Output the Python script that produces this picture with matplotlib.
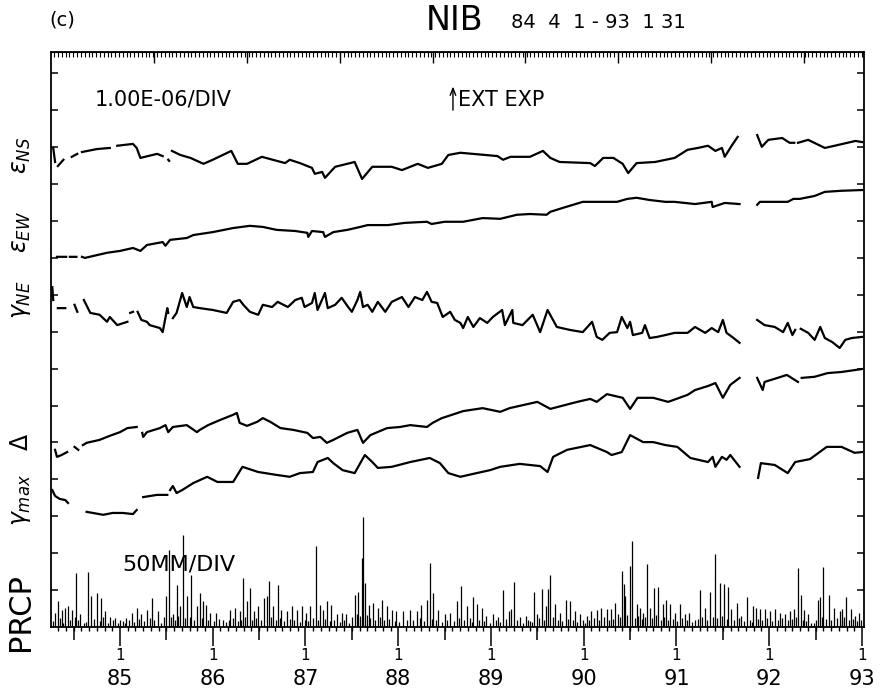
import numpy as np
import matplotlib
matplotlib.use("Agg")
import matplotlib.pyplot as plt
import matplotlib.transforms as mtransforms

plt.rcParams['font.family'] = ['DejaVu Sans']
plt.rcParams['mathtext.fontset'] = 'dejavusans'

nan = np.nan

# time in decimal years, strain in 1e-6 (one division), relative to each trace's base line
ens_t = [1984.28, 1984.30, 1984.31, 1984.33, 1984.39, 1984.43, 1984.48, 1984.54, 1984.56,
         1984.59, 1984.75, 1984.89, 1984.93, 1984.97, 1985.14, 1985.18, 1985.22, 1985.40,
         1985.46, 1985.49, 1985.52, 1985.53, 1985.545, 1985.56, 1985.65, 1985.76, 1985.90,
         1986.00, 1986.20, 1986.27, 1986.37, 1986.53, 1986.78, 1986.83, 1986.94, 1987.07,
         1987.10, 1987.18, 1987.21, 1987.32, 1987.53, 1987.61, 1987.72, 1987.93, 1988.04,
         1988.21, 1988.32, 1988.47, 1988.54, 1988.67, 1989.07, 1989.13, 1989.21, 1989.42,
         1989.56, 1989.64, 1989.74, 1990.07, 1990.12, 1990.21, 1990.32, 1990.42, 1990.48,
         1990.57, 1990.77, 1990.98, 1991.12, 1991.23, 1991.34, 1991.42, 1991.49, 1991.52,
         1991.60, 1991.66, 1991.77, 1991.87, 1991.92, 1991.99, 1992.14, 1992.22, 1992.27,
         1992.29, 1992.31, 1992.42, 1992.60, 1992.74, 1992.93, 1993.00]
ens_v = [0.98, 0.60, nan, 0.49, 0.66, nan, 0.74, 0.82, nan,
         0.87, 0.95, 0.98, nan, 1.04, 1.09, 0.98, 0.71, 0.82,
         0.76, nan, 0.66, 0.63, nan, 0.90, 0.79, 0.71, 0.55,
         0.66, 0.90, 0.55, 0.55, 0.74, 0.57, 0.66, 0.57, 0.44,
         0.28, 0.33, 0.17, 0.47, 0.60, 0.14, 0.47, 0.47, 0.38,
         0.55, 0.44, 0.55, 0.79, 0.85, 0.76, 0.66, 0.74, 0.74,
         0.90, 0.71, 0.60, 0.57, 0.49, 0.71, 0.71, 0.55, 0.30,
         0.57, 0.60, 0.71, 0.93, 0.98, 1.04, 0.90, 0.98, 0.74,
         1.06, 1.28, nan, 1.33, 1.01, 1.20, 1.25, 1.12, 1.12,
         nan, 1.12, 1.20, 0.98, 1.06, 1.17, 1.14]

eew_t = [1984.32, 1984.42, 1984.44, 1984.46, 1984.53, 1984.56, 1984.59, 1984.62, 1984.86,
         1985.00, 1985.14, 1985.22, 1985.29, 1985.46, 1985.49, 1985.54, 1985.72, 1985.79,
         1986.00, 1986.22, 1986.40, 1986.54, 1986.69, 1986.89, 1987.02, 1987.03, 1987.07,
         1987.19, 1987.21, 1987.30, 1987.45, 1987.59, 1987.67, 1987.89, 1988.07, 1988.31,
         1988.36, 1988.50, 1988.70, 1988.91, 1989.10, 1989.28, 1989.42, 1989.60, 1989.64,
         1989.78, 1989.99, 1990.18, 1990.36, 1990.47, 1990.57, 1990.71, 1990.88, 1990.98,
         1991.20, 1991.38, 1991.39, 1991.52, 1991.68, 1991.77, 1991.87, 1991.90, 1992.06,
         1992.20, 1992.26, 1992.33, 1992.49, 1992.60, 1992.78, 1993.00]
eew_v = [0.03, 0.03, nan, 0.03, 0.03, nan, 0.03, 0.00, 0.14,
         0.19, 0.27, 0.19, 0.35, 0.43, 0.33, 0.49, 0.54, 0.62,
         0.70, 0.81, 0.87, 0.84, 0.76, 0.73, 0.68, 0.57, 0.73,
         0.70, 0.57, 0.70, 0.76, 0.84, 0.89, 0.89, 0.95, 0.98,
         0.92, 0.98, 0.98, 1.08, 1.06, 1.17, 1.19, 1.17, 1.25,
         1.36, 1.52, 1.52, 1.52, 1.60, 1.63, 1.57, 1.52, 1.52,
         1.46, 1.52, 1.38, 1.49, 1.46, nan, 1.44, 1.52, 1.52,
         1.52, 1.60, 1.60, 1.68, 1.79, 1.82, 1.84]

gne_t = [1984.27, 1984.28, 1984.30, 1984.33, 1984.41, 1984.46, 1984.51, 1984.54, 1984.58,
         1984.61, 1984.68, 1984.78, 1984.86, 1984.89, 1984.97, 1985.08, 1985.10, 1985.11,
         1985.14, 1985.17, 1985.19, 1985.23, 1985.29, 1985.32, 1985.43, 1985.46, 1985.51,
         1985.52, 1985.55, 1985.57, 1985.61, 1985.67, 1985.72, 1985.75, 1985.79, 1985.86,
         1986.00, 1986.15, 1986.22, 1986.29, 1986.33, 1986.40, 1986.49, 1986.54, 1986.64,
         1986.70, 1986.81, 1986.89, 1986.96, 1986.99, 1987.07, 1987.10, 1987.13, 1987.21,
         1987.24, 1987.32, 1987.39, 1987.46, 1987.50, 1987.56, 1987.59, 1987.62, 1987.67,
         1987.72, 1987.78, 1987.86, 1987.93, 1988.04, 1988.11, 1988.18, 1988.26, 1988.31,
         1988.36, 1988.42, 1988.48, 1988.56, 1988.61, 1988.67, 1988.70, 1988.75, 1988.81,
         1988.88, 1988.96, 1989.02, 1989.12, 1989.15, 1989.23, 1989.24, 1989.34, 1989.45,
         1989.53, 1989.61, 1989.71, 1989.85, 1989.99, 1990.09, 1990.14, 1990.20, 1990.28,
         1990.36, 1990.41, 1990.47, 1990.50, 1990.53, 1990.63, 1990.66, 1990.71, 1990.79,
         1990.88, 1990.98, 1991.12, 1991.20, 1991.31, 1991.38, 1991.45, 1991.50, 1991.54,
         1991.60, 1991.68, 1991.77, 1991.87, 1991.95, 1992.06, 1992.15, 1992.20, 1992.25,
         1992.28, 1992.31, 1992.34, 1992.42, 1992.49, 1992.55, 1992.60, 1992.68,
         1992.76, 1992.82, 1992.89, 1993.00]
gne_v = [1.21, 0.86, nan, 0.64, 0.64, nan, 0.73, 0.54, nan,
         0.86, 0.51, 0.46, 0.27, 0.40, 0.18, 0.27, nan, 0.51,
         0.54, nan, 0.54, 0.32, 0.27, 0.18, 0.10, -0.01, 0.64,
         0.51, nan, 0.37, 0.51, 1.05, 0.67, 0.94, 0.67, 0.64,
         0.59, 0.51, 0.81, 0.86, 0.73, 0.54, 0.46, 0.73, 0.67,
         0.81, 0.67, 0.86, 0.92, 0.67, 0.78, 1.05, 0.59, 1.05,
         0.64, 0.73, 0.92, 0.67, 0.54, 0.86, 1.08, 0.67, 0.73,
         0.54, 0.81, 0.54, 0.81, 0.94, 0.67, 0.94, 0.86, 1.08,
         0.81, 0.78, 0.40, 0.54, 0.32, 0.24, 0.10, 0.40, 0.13,
         0.37, 0.24, 0.40, 0.59, 0.18, 0.59, 0.24, 0.18, 0.46,
         -0.01, 0.59, 0.13, 0.05, -0.01, 0.27, -0.14, -0.22, -0.03,
         -0.01, 0.40, 0.10, 0.27, -0.09, -0.03, 0.18, -0.17, -0.14,
         -0.09, -0.03, -0.03, 0.13, -0.03, 0.10, -0.01, 0.32, -0.03,
         -0.14, -0.30, nan, 0.32, 0.18, 0.13, -0.01, 0.24, -0.09,
         0.05, nan, 0.08, -0.03, -0.22, 0.13, -0.17, -0.28,
         -0.44, -0.22, -0.17, -0.14]

dl_t = [1984.30, 1984.32, 1984.37, 1984.43, 1984.47, 1984.51, 1984.55, 1984.57, 1984.60,
        1984.64, 1984.78, 1984.89, 1985.00, 1985.08, 1985.18, 1985.21, 1985.24, 1985.25,
        1985.29, 1985.43, 1985.49, 1985.52, 1985.57, 1985.72, 1985.83, 1985.86, 1985.95,
        1986.08, 1986.22, 1986.26, 1986.29, 1986.37, 1986.48, 1986.54, 1986.62, 1986.73,
        1986.87, 1987.02, 1987.08, 1987.16, 1987.23, 1987.30, 1987.45, 1987.56, 1987.62,
        1987.70, 1987.88, 1988.02, 1988.13, 1988.31, 1988.37, 1988.47, 1988.58, 1988.70,
        1988.91, 1989.10, 1989.20, 1989.50, 1989.64, 1989.93, 1990.07, 1990.14, 1990.25,
        1990.42, 1990.50, 1990.58, 1990.75, 1990.91, 1991.12, 1991.20, 1991.34, 1991.42,
        1991.50, 1991.58, 1991.68, 1991.77, 1991.87, 1991.93, 1991.95, 1992.09, 1992.19,
        1992.31, 1992.33, 1992.35, 1992.49, 1992.63, 1992.78, 1992.92, 1993.00]
dl_v = [-0.20, -0.39, -0.34, -0.26, nan, -0.12, -0.20, nan, -0.07,
        -0.01, 0.07, 0.18, 0.28, 0.39, 0.42, nan, 0.26, 0.15,
        0.28, 0.39, 0.47, 0.28, 0.42, 0.47, 0.28, 0.34, 0.47,
        0.61, 0.75, 0.80, 0.53, 0.45, 0.56, 0.66, 0.56, 0.39,
        0.34, 0.26, 0.12, 0.15, -0.01, 0.07, 0.26, 0.34, -0.01,
        0.20, 0.39, 0.42, 0.47, 0.42, 0.53, 0.66, 0.75, 0.85,
        0.93, 0.83, 0.93, 1.10, 0.91, 1.10, 1.18, 1.10, 1.31,
        1.21, 0.91, 1.21, 1.21, 1.10, 1.29, 1.42, 1.53, 1.61,
        1.21, 1.56, 1.75, nan, 1.75, 1.42, 1.64, 1.75, 1.83,
        1.64, nan, 1.75, 1.78, 1.88, 1.91, 1.96, 1.99]

gm_t = [1984.27, 1984.30, 1984.35, 1984.41, 1984.44, 1984.49, 1984.54, 1984.56, 1984.57,
        1984.60, 1984.64, 1984.82, 1984.92, 1985.03, 1985.14, 1985.18, 1985.22, 1985.25,
        1985.40, 1985.51, 1985.53, 1985.54, 1985.57, 1985.61, 1985.67, 1985.79, 1985.94,
        1986.05, 1986.22, 1986.32, 1986.49, 1986.69, 1986.83, 1986.94, 1987.08, 1987.13,
        1987.24, 1987.30, 1987.40, 1987.53, 1987.64, 1987.72, 1987.78, 1987.93, 1988.13,
        1988.34, 1988.45, 1988.54, 1988.67, 1988.81, 1988.99, 1989.10, 1989.31, 1989.53,
        1989.61, 1989.67, 1989.82, 1990.07, 1990.25, 1990.30, 1990.41, 1990.50, 1990.64,
        1990.75, 1990.88, 1991.01, 1991.15, 1991.34, 1991.39, 1991.42, 1991.49, 1991.54,
        1991.58, 1991.68, 1991.78, 1991.88, 1991.91, 1992.06, 1992.20, 1992.28, 1992.44,
        1992.62, 1992.78, 1992.92, 1993.00]
gm_v = [-0.29, -0.45, -0.53, -0.56, -0.64, nan, -0.58, nan, -0.78,
        nan, -0.88, -0.96, -0.91, -0.91, -0.94, -0.83, nan, -0.48,
        -0.42, -0.42, nan, -0.29, -0.18, -0.37, -0.29, -0.10, 0.07,
        -0.07, -0.07, 0.34, 0.20, 0.12, 0.07, 0.17, 0.20, 0.47,
        0.58, 0.44, 0.25, 0.17, 0.66, 0.47, 0.31, 0.34, 0.47,
        0.58, 0.44, 0.17, 0.07, 0.15, 0.25, 0.34, 0.42, 0.36,
        0.20, 0.61, 0.80, 0.93, 0.74, 0.66, 0.74, 1.20, 1.01,
        1.01, 0.93, 0.88, 0.58, 0.47, 0.61, 0.34, 0.61, 0.53,
        0.66, 0.34, nan, 0.04, 0.44, 0.39, 0.17, 0.47, 0.55,
        0.88, 0.88, 0.72, 0.74]

# daily precipitation, mm (50 mm per division): the larger events
pr_t = [1984.30, 1984.33, 1984.37, 1984.41, 1984.44, 1984.48, 1984.53, 1984.57, 1984.66, 1984.69,
        1984.75, 1984.80, 1984.84, 1984.89, 1984.95, 1985.00, 1985.07, 1985.13, 1985.18, 1985.23,
        1985.29, 1985.34, 1985.41, 1985.47, 1985.50, 1985.53, 1985.57, 1985.61, 1985.65, 1985.68,
        1985.72, 1985.77, 1985.83, 1985.86, 1985.90, 1985.93, 1985.97, 1986.04, 1986.11, 1986.19,
        1986.24, 1986.29, 1986.33, 1986.37, 1986.40, 1986.44, 1986.49, 1986.55, 1986.58, 1986.61,
        1986.65, 1986.70, 1986.74, 1986.80, 1986.85, 1986.91, 1986.96, 1987.01, 1987.05, 1987.11,
        1987.16, 1987.19, 1987.23, 1987.28, 1987.34, 1987.39, 1987.44, 1987.53, 1987.57, 1987.61,
        1987.62, 1987.64, 1987.68, 1987.73, 1987.78, 1987.82, 1987.88, 1987.93, 1987.98, 1988.05,
        1988.13, 1988.20, 1988.25, 1988.31, 1988.34, 1988.38, 1988.43, 1988.50, 1988.56, 1988.63,
        1988.68, 1988.74, 1988.81, 1988.85, 1988.90, 1988.95, 1989.02, 1989.08, 1989.13, 1989.19,
        1989.22, 1989.25, 1989.31, 1989.38, 1989.42, 1989.46, 1989.50, 1989.55, 1989.59, 1989.62,
        1989.64, 1989.69, 1989.74, 1989.81, 1989.85, 1989.91, 1989.96, 1990.03, 1990.08, 1990.14,
        1990.19, 1990.25, 1990.29, 1990.34, 1990.37, 1990.41, 1990.43, 1990.45, 1990.50, 1990.52,
        1990.57, 1990.61, 1990.64, 1990.68, 1990.71, 1990.76, 1990.80, 1990.85, 1990.89, 1990.93,
        1990.98, 1991.04, 1991.09, 1991.14, 1991.20, 1991.25, 1991.31, 1991.36, 1991.42, 1991.47,
        1991.51, 1991.56, 1991.59, 1991.65, 1991.70, 1991.76, 1991.83, 1991.86, 1991.90, 1991.95,
        1992.01, 1992.06, 1992.12, 1992.17, 1992.22, 1992.27, 1992.31, 1992.34, 1992.38, 1992.42,
        1992.48, 1992.53, 1992.55, 1992.58, 1992.64, 1992.70, 1992.76, 1992.79, 1992.83, 1992.88,
        1992.92, 1992.97]
pr_mm = [19, 35, 23, 26, 28, 23, 73, 17, 75, 42,
         46, 39, 21, 14, 12, 10, 12, 19, 26, 17,
         23, 39, 21, 14, 42, 104, 17, 57, 28, 125,
         42, 71, 28, 46, 35, 30, 19, 19, 10, 23,
         26, 21, 66, 35, 53, 21, 28, 39, 42, 62,
         28, 57, 23, 21, 28, 23, 28, 19, 28, 110,
         30, 23, 35, 30, 17, 19, 17, 44, 48, 94,
         149, 60, 30, 33, 26, 37, 28, 23, 21, 21,
         23, 21, 30, 37, 87, 46, 23, 17, 19, 35,
         56, 28, 40, 31, 26, 15, 17, 13, 50, 22,
         24, 61, 13, 15, 8, 47, 17, 51, 28, 51,
         70, 31, 19, 36, 35, 22, 17, 15, 22, 23,
         26, 25, 24, 32, 17, 76, 58, 42, 83, 117,
         31, 26, 19, 85, 26, 53, 54, 31, 36, 31,
         19, 31, 17, 19, 10, 50, 26, 47, 99, 59,
         58, 54, 24, 32, 15, 41, 28, 26, 24, 25,
         22, 24, 19, 17, 22, 25, 80, 44, 23, 17,
         6, 37, 40, 81, 43, 26, 22, 24, 40, 25,
         15, 19]

# the small daily amounts that crowd the base line
prs_t = [1984.28, 1984.35, 1984.39, 1984.46, 1984.51, 1984.55, 1984.61, 1984.63, 1984.72, 1984.78,
         1984.82, 1984.87, 1984.92, 1984.98, 1985.03, 1985.05, 1985.10, 1985.15, 1985.21, 1985.26,
         1985.32, 1985.37, 1985.44, 1985.55, 1985.59, 1985.63, 1985.70, 1985.75, 1985.80, 1985.88,
         1985.95, 1986.01, 1986.07, 1986.14, 1986.17, 1986.22, 1986.27, 1986.31, 1986.35, 1986.42,
         1986.47, 1986.52, 1986.63, 1986.68, 1986.72, 1986.77, 1986.83, 1986.88, 1986.94, 1986.99,
         1987.03, 1987.08, 1987.13, 1987.21, 1987.26, 1987.31, 1987.37, 1987.42, 1987.47, 1987.50,
         1987.55, 1987.59, 1987.66, 1987.70, 1987.75, 1987.80, 1987.85, 1987.90, 1987.96, 1988.01,
         1988.09, 1988.16, 1988.23, 1988.28, 1988.36, 1988.41, 1988.47, 1988.53, 1988.60, 1988.66,
         1988.71, 1988.77, 1988.79, 1988.87, 1988.92, 1988.99, 1989.05, 1989.10, 1989.16, 1989.28,
         1989.34, 1989.40, 1989.44, 1989.52, 1989.57, 1989.67, 1989.72, 1989.77, 1989.83, 1989.88,
         1989.93, 1989.99, 1990.01, 1990.06, 1990.11, 1990.17, 1990.22, 1990.27, 1990.32, 1990.39,
         1990.47, 1990.55, 1990.59, 1990.63, 1990.66, 1990.74, 1990.78, 1990.83, 1990.87, 1990.91,
         1990.96, 1991.01, 1991.06, 1991.11, 1991.17, 1991.23, 1991.28, 1991.33, 1991.39, 1991.44,
         1991.49, 1991.54, 1991.62, 1991.67, 1991.73, 1991.79, 1991.81, 1991.88, 1991.92, 1991.98,
         1992.03, 1992.09, 1992.14, 1992.20, 1992.25, 1992.29, 1992.36, 1992.40, 1992.45, 1992.50,
         1992.57, 1992.61, 1992.67, 1992.73, 1992.78, 1992.81, 1992.86, 1992.90, 1992.95, 1992.99]
prs_mm = [8, 12, 6, 10, 14, 9, 5, 7, 11, 8,
          13, 6, 9, 5, 8, 6, 9, 7, 11, 8,
          12, 9, 6, 13, 10, 15, 12, 14, 9, 12,
          10, 8, 11, 7, 9, 12, 8, 10, 14, 9,
          12, 10, 13, 9, 12, 8, 11, 9, 7, 10,
          8, 12, 9, 11, 8, 10, 7, 9, 6, 14,
          18, 15, 16, 12, 10, 13, 9, 11, 8, 7,
          10, 9, 12, 8, 11, 9, 7, 10, 8, 12,
          9, 12, 7, 10, 8, 6, 9, 7, 11, 9,
          6, 10, 7, 12, 9, 13, 10, 8, 11, 9,
          7, 10, 6, 9, 12, 10, 13, 9, 11, 14,
          16, 12, 15, 11, 14, 12, 16, 10, 13, 9,
          11, 8, 12, 9, 7, 11, 13, 10, 14, 12,
          15, 11, 9, 12, 8, 10, 7, 11, 9, 12,
          8, 10, 12, 9, 11, 13, 10, 8, 6, 9,
          13, 11, 9, 12, 10, 13, 9, 11, 8, 10]

years = [1985, 1986, 1987, 1988, 1989, 1990, 1991, 1992, 1993]
year_labels = ['85', '86', '87', '88', '89', '90', '91', '92', '93']

fig = plt.figure(figsize=(8.91, 6.89), dpi=100)
ax = fig.add_axes([51/891, 62/689, 813/891, 575/689])

traces = [(ens_t, ens_v, 12), (eew_t, eew_v, 10), (gne_t, gne_v, 8),
          (dl_t, dl_v, 5), (gm_t, gm_v, 4)]
for t, v, off in traces:
    ax.plot(t, np.asarray(v) + off, color='black', lw=1.6)

ax.vlines(pr_t, 0, np.asarray(pr_mm) / 50.0, color='black', lw=0.9)
ax.vlines(prs_t, 0, np.asarray(prs_mm) / 50.0, color='black', lw=0.9)

ax.set_xlim(1984.256, 1993.022)
ax.set_ylim(0, 15.58)

for s in ax.spines.values():
    s.set_linewidth(1.3)

ax.set_yticks(range(1, 16))
ax.set_yticklabels([])
ax.tick_params(axis='y', which='both', direction='in', length=5, width=1.1,
               left=True, right=True)

ax.set_xticks(years)
ax.set_xticklabels(year_labels, fontsize=15)
ax.set_xticks(np.arange(1984 + 4 / 12, 1993.05, 1 / 12), minor=True)
ax.tick_params(axis='x', which='major', direction='out', length=14, width=1.1, pad=16)
ax.tick_params(axis='x', which='minor', direction='out', length=3, width=1.0)

half = ax.secondary_xaxis('bottom')
half.set_xticks(np.arange(1984.5, 1993.0, 1.0))
half.set_xticklabels([])
half.tick_params(direction='out', length=9, width=1.1)
half.spines['bottom'].set_visible(False)

top = ax.secondary_xaxis('top')
top.set_xticks(np.arange(1985.37, 1993.0, 1.0))
top.set_xticklabels([])
top.set_xticks(np.arange(1984.25, 1993.02, 15 / 365.25), minor=True)
top.tick_params(which='major', direction='in', length=8, width=1.0)
top.tick_params(which='minor', direction='in', length=3.5, width=0.8)

trans = mtransforms.blended_transform_factory(ax.transData, ax.transAxes)
for yr in years:
    ax.text(yr, -0.049, '1', fontsize=11, ha='center', va='center', transform=trans)

fig.text(62/891, 1 - 20/689, '(c)', fontsize=14, ha='center', va='center')
fig.text(455/891, 1 - 20/689, 'NIB', fontsize=24, ha='center', va='center')
fig.text(598/891, 1 - 23/689, '84  4  1 - 93  1 31', fontsize=14, ha='center', va='center')

ax.text(1984.73, 14.28, '1.00E-06/DIV', fontsize=15, va='center')
ax.annotate('', xy=(1988.59, 14.72), xytext=(1988.59, 13.93),
            arrowprops=dict(arrowstyle='->,head_length=0.5,head_width=0.2', lw=1.0, color='black'))
ax.text(1988.64, 14.28, 'EXT EXP', fontsize=15, va='center')
ax.text(1985.02, 1.68, '50MM/DIV', fontsize=16, va='center')

fig.text(21/891, 1 - 155/689, r'$\varepsilon_{NS}$', fontsize=17, rotation=90, ha='center', va='center')
fig.text(21/891, 1 - 232/689, r'$\varepsilon_{EW}$', fontsize=17, rotation=90, ha='center', va='center')
fig.text(21/891, 1 - 300/689, r'$\gamma_{NE}$', fontsize=17, rotation=90, ha='center', va='center')
fig.text(21/891, 1 - 442/689, r'$\mathit{\Delta}$', fontsize=17, rotation=90, ha='center', va='center')
fig.text(21/891, 1 - 500/689, r'$\gamma_{max}$', fontsize=17, rotation=90, ha='center', va='center')
fig.text(21/891, 1 - 612/689, 'PRCP', fontsize=22, rotation=90, ha='center', va='center')

fig.savefig('out.png', dpi=100)
